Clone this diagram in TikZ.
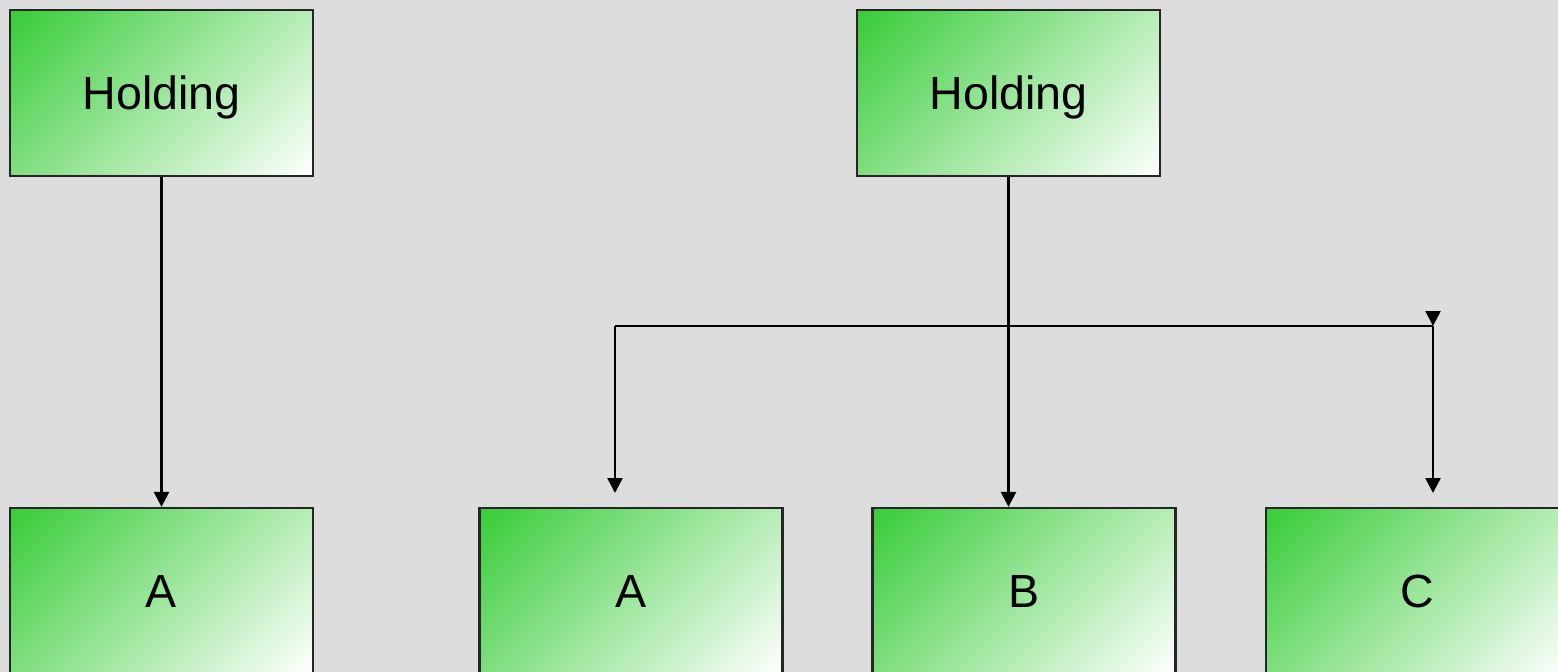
\documentclass[tikz,border=0pt]{standalone}
\usepackage{fontspec}
\setmainfont{Liberation Sans}
\definecolor{boxgreen}{RGB}{56, 204, 56}
\definecolor{paper}{RGB}{221, 221, 221}
\usepackage{tikz}
\usetikzlibrary{arrows.meta, positioning, calc}
% green corner fading to white over the whole diagonal
\pgfdeclareverticalshading{greenfade}{100bp}{color(0bp)=(white); color(14.6bp)=(white); color(85.4bp)=(boxgreen); color(100bp)=(boxgreen)}

\begin{document}
\begin{tikzpicture}[
    x=0.02cm, y=-0.02cm,
    unit/.style={draw=black!85, line width=1.3pt, shading=greenfade, shading angle=45,
      minimum width=6.06cm, minimum height=3.32cm, inner sep=0pt,
      font=\fontsize{26.5}{30}\selectfont, text height=19pt, text depth=0pt},
    link/.style={line width=1.4pt, -{Triangle[length=0.3cm, width=0.3cm]}}
  ]
  \fill[paper] (0,0) rectangle (1558,672);
  \useasboundingbox (0,0) rectangle (1558,672);

  % single subsidiary
  \node[unit] (hold1) at (161.5, 93) {Holding};
  \node[unit] (a1) at (161.5, 591) {A};
  \draw[link] (hold1.south) -- (a1.north);

  % three subsidiaries
  \node[unit] (hold2) at (1008.5, 93) {Holding};
  \node[unit] (a2) at (631, 591) {A};
  \node[unit] (b) at (1024, 591) {B};
  \node[unit] (c) at (1417.5, 591) {C};

  \coordinate (barl) at (615, 326);
  \coordinate (barr) at (1433, 326);
  \coordinate (barup) at (1433, 311);
  \coordinate (enda2) at (615, 493);
  \coordinate (endc) at (1433, 493);

  \draw[link] (hold2.south) -- (hold2.south |- b.north);
  \draw[line width=1.4pt] (barl) -- (barr);
  \draw[link] (barup) -- (barr);
  \draw[link] (barl) -- (enda2);
  \draw[link] (barr) -- (endc);
\end{tikzpicture}
\end{document}
